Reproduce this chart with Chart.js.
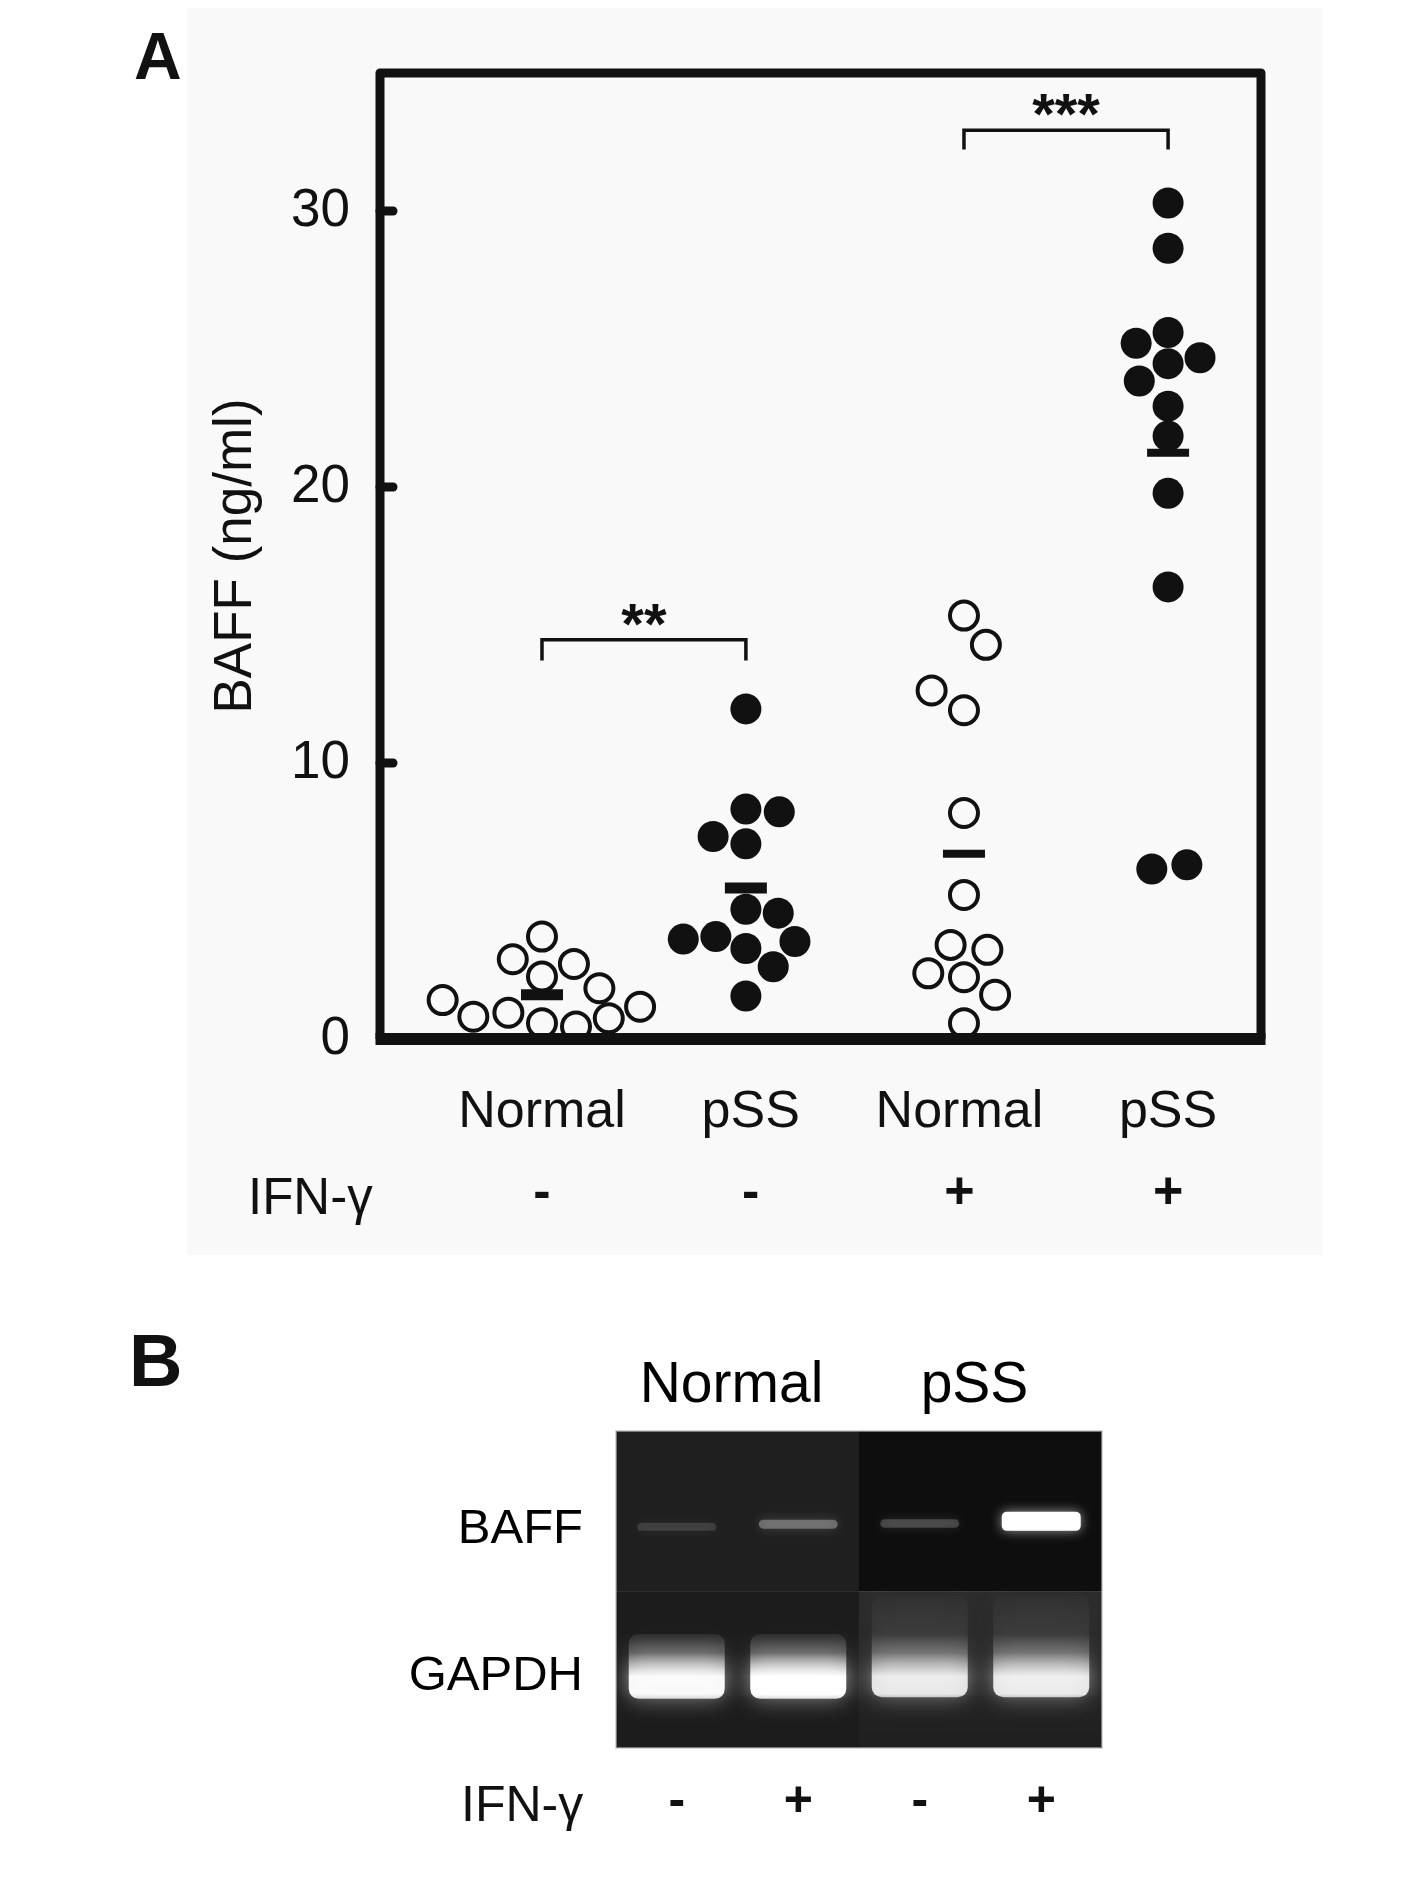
<!DOCTYPE html>
<html>
<head>
<meta charset="utf-8">
<script src="https://cdn.jsdelivr.net/npm/chart.js@4.4.1/dist/chart.umd.min.js"></script>
<style>
  html, body { margin: 0; padding: 0; background: #fff; }
  body { width: 1417px; height: 1891px; position: relative; overflow: hidden;
         font-family: 'Liberation Sans', Arial, sans-serif; color: #111; }
  .scan { position: absolute; left: 187px; top: 8px; width: 1135px; height: 1247px; background: #f9f9f9; }
  #chartA { position: absolute; left: 0; top: 0; }
  #chartB { position: absolute; left: 0; top: 1300px; }
  .lbl { position: absolute; line-height: 1; white-space: nowrap; }
</style>
</head>
<body>
<div class="scan"></div>
<canvas id="chartA" width="1417" height="1300"></canvas>
<canvas id="chartB" width="1417" height="591"></canvas>
<div class="lbl" style="left:134px; top:23px; font-size:66px; font-weight:bold;">A</div>
<div class="lbl" style="left:129px; top:1324px; font-size:74px; font-weight:bold;">B</div>
<div class="lbl" style="left:248px; top:1171px; font-size:51px;">IFN-γ</div>
<div class="lbl" style="left:461px; top:1779px; font-size:50px;">IFN-γ</div>
<script>
const FONT = "'Liberation Sans', Arial, sans-serif";

// Panel A: BAFF in culture supernatant (ng/ml)
const groupNames = ['Normal', 'pSS', 'Normal', 'pSS'];
const ifnSigns = ['-', '-', '+', '+'];
const groupPos = [1, 1.977, 3.022, 4];
const yTicks = [0, 10, 20, 30];

const normalNoIfn = [1.41, 0.81, 0.95, 2.89, 3.71, 2.26, 0.57, 2.72, 0.45, 1.84, 0.75, 1.17];
const normalNoIfnJitter = [-0.476, -0.329, -0.161, -0.140, 0, 0, 0, 0.153, 0.163, 0.275, 0.320, 0.470];
const pssNoIfn = [11.96, 8.33, 8.23, 7.34, 7.07, 4.70, 4.56, 3.62, 3.71, 3.28, 3.53, 2.62, 1.56];
const pssNoIfnJitter = [0, 0, 0.160, -0.157, 0, 0, 0.155, -0.300, -0.144, 0, 0.235, 0.131, 0];
const normalIfn = [15.34, 14.28, 12.63, 11.91, 8.19, 5.22, 3.41, 3.23, 2.38, 2.24, 1.60, 0.57];
const normalIfnJitter = [0, 0.105, -0.155, 0, 0, 0, -0.064, 0.112, -0.171, 0, 0.149, 0];
const pssIfn = [30.29, 28.65, 25.21, 25.60, 24.68, 24.47, 23.84, 22.93, 21.85, 19.77, 16.38, 6.16, 6.31];
const pssIfnJitter = [0, 0, -0.153, 0, 0.153, 0, -0.138, 0, 0, 0, 0, -0.078, 0.090];
const groupMeans = [1.60, 5.47, 6.71, 21.24];

// significance brackets
const bracketFrom = [1, 3.022];
const bracketTo = [1.977, 4];
const bracketTop = [14.47, 32.93];
const bracketDrop = [0.76, 0.70];
const bracketStars = ['**', '***'];

// Panel B: RT-PCR gel, band position (% of gel height) and brightness
const laneSigns = ['-', '+', '-', '+'];
const donorGroups = ['Normal', 'pSS'];
const rowNames = ['BAFF', 'GAPDH'];
const rowPos = [31.2, 77.3];
const baffTop = [29, 28, 27.8, 25.5];
const baffBottom = [31.5, 30.8, 30.5, 31.5];
const baffLevel = [0.12, 0.3, 0.2, 1.0];
const gapdhTop = [64, 64, 52, 52];
const gapdhBottom = [84.5, 84.5, 84, 84];
const gapdhLevel = [0.96, 1.0, 0.84, 0.86];

function groupPoints(values, jitter, g) {
  return values.map((v, i) => ({ x: groupPos[g] + jitter[i], y: v }));
}

function bracketPoints(i) {
  return [
    { x: bracketFrom[i], y: bracketTop[i] - bracketDrop[i] },
    { x: bracketFrom[i], y: bracketTop[i] },
    { x: bracketTo[i], y: bracketTop[i] },
    { x: bracketTo[i], y: bracketTop[i] - bracketDrop[i] },
  ];
}

const openDot = { pointRadius: 14, pointBorderWidth: 4, pointBackgroundColor: '#f9f9f9', pointBorderColor: '#111' };
const fullDot = { pointRadius: 15.5, pointBorderWidth: 0, pointBackgroundColor: '#111', pointBorderColor: '#111' };
const noGrid = { display: false, drawTicks: false };

// frame, inward ticks and stars
const frameA = {
  id: 'frameA',
  afterDatasetsDraw(chart) {
    const { ctx, chartArea: a, scales: { x, y } } = chart;
    ctx.save();
    ctx.fillStyle = '#111';
    ctx.font = 'bold 58px ' + FONT;
    ctx.textAlign = 'center';
    ctx.textBaseline = 'alphabetic';
    bracketStars.forEach((s, i) => {
      const px = x.getPixelForValue((bracketFrom[i] + bracketTo[i]) / 2);
      const py = y.getPixelForValue(bracketTop[i]);
      ctx.fillText(s, px, py + 4);
    });

    ctx.strokeStyle = '#111';
    ctx.lineWidth = 9;
    ctx.lineJoin = 'round';
    ctx.beginPath();
    ctx.moveTo(a.left, a.bottom);
    ctx.lineTo(a.left, a.top);
    ctx.lineTo(a.right, a.top);
    ctx.lineTo(a.right, a.bottom);
    ctx.stroke();
    ctx.lineWidth = 12;
    ctx.beginPath();
    ctx.moveTo(a.left - 4.5, a.bottom);
    ctx.lineTo(a.right + 4.5, a.bottom);
    ctx.stroke();

    ctx.lineWidth = 9;
    ctx.lineCap = 'round';
    y.ticks.forEach(t => {
      if (t.value === 0) return;
      const py = y.getPixelForValue(t.value);
      ctx.beginPath();
      ctx.moveTo(a.left, py);
      ctx.lineTo(a.left + 13, py);
      ctx.stroke();
    });
    ctx.restore();
  }
};

new Chart(document.getElementById('chartA'), {
  type: 'scatter',
  data: {
    datasets: [
      {
        label: 'mean',
        data: groupMeans.map((m, i) => ({ x: groupPos[i], y: m })),
        pointStyle: 'line',
        pointRadius: 21,
        pointBorderWidth: [11, 11, 8, 8],
        pointBorderColor: '#111',
      },
      { label: 'bracket1', data: bracketPoints(0), showLine: true, borderColor: '#111', borderWidth: 3.5, pointRadius: 0 },
      { label: 'bracket2', data: bracketPoints(1), showLine: true, borderColor: '#111', borderWidth: 3.5, pointRadius: 0 },
      { label: 'Normal IFN-', data: groupPoints(normalNoIfn, normalNoIfnJitter, 0), ...openDot },
      { label: 'pSS IFN-', data: groupPoints(pssNoIfn, pssNoIfnJitter, 1), ...fullDot },
      { label: 'Normal IFN+', data: groupPoints(normalIfn, normalIfnJitter, 2), ...openDot },
      { label: 'pSS IFN+', data: groupPoints(pssIfn, pssIfnJitter, 3), ...fullDot },
    ]
  },
  options: {
    responsive: false,
    animation: false,
    devicePixelRatio: 1,
    layout: { padding: { top: 73, right: 156, left: 0, bottom: 0 } },
    plugins: { legend: { display: false }, tooltip: { enabled: false } },
    scales: {
      x: {
        type: 'linear',
        min: 0.2238,
        max: 4.4452,
        weight: 0,
        afterBuildTicks: s => { s.ticks = groupNames.map((_, i) => ({ value: i + 1 })); },
        ticks: {
          callback: (v, i) => groupNames[i],
          font: { family: FONT, size: 52 },
          color: '#111',
          padding: 42,
          autoSkip: false,
          maxRotation: 0,
          minRotation: 0,
        },
        grid: noGrid,
        border: { display: false },
        afterFit: s => { s.height = 113; },
      },
      xs: {
        type: 'linear',
        position: 'bottom',
        min: 0.2238,
        max: 4.4452,
        weight: 1,
        afterBuildTicks: s => { s.ticks = ifnSigns.map((_, i) => ({ value: i + 1 })); },
        ticks: {
          callback: (v, i) => ifnSigns[i],
          font: { family: FONT, size: 52, weight: 'bold' },
          color: '#111',
          padding: 10,
          autoSkip: false,
          maxRotation: 0,
          minRotation: 0,
        },
        grid: noGrid,
        border: { display: false },
        afterFit: s => { s.height = 148; },
      },
      y: {
        min: 0,
        max: 35,
        afterBuildTicks: s => { s.ticks = yTicks.map(v => ({ value: v })); },
        ticks: { font: { family: FONT, size: 53 }, color: '#111', padding: 30 },
        grid: noGrid,
        border: { display: false },
        title: {
          display: true,
          text: 'BAFF (ng/ml)',
          font: { family: FONT, size: 53 },
          color: '#111',
          padding: { top: 205, bottom: 0 },
        },
        afterFit: s => { s.width = 380; },
      }
    }
  },
  plugins: [frameA]
});

// gel background quadrants and edge
const gelBack = {
  id: 'gelBack',
  beforeDatasetsDraw(chart) {
    const { ctx, chartArea: a, scales: { x, y } } = chart;
    const mx = (x.getPixelForValue(1) + x.getPixelForValue(2)) / 2;
    const my = y.getPixelForValue(50.5);
    ctx.save();
    ctx.fillStyle = '#1f1f1f';
    ctx.fillRect(a.left, a.top, mx - a.left, my - a.top);
    ctx.fillStyle = '#0e0e0e';
    ctx.fillRect(mx, a.top, a.right - mx, my - a.top);
    ctx.fillStyle = '#1c1c1c';
    ctx.fillRect(a.left, my, mx - a.left, a.bottom - my);
    const g = ctx.createLinearGradient(0, my, 0, a.bottom);
    g.addColorStop(0, '#2c2c2c');
    g.addColorStop(1, '#1f1f1f');
    ctx.fillStyle = g;
    ctx.fillRect(mx, my, a.right - mx, a.bottom - my);
    ctx.restore();
  },
  afterDraw(chart) {
    const { ctx, chartArea: a } = chart;
    ctx.save();
    ctx.strokeStyle = 'rgba(185,185,185,0.8)';
    ctx.lineWidth = 1.5;
    ctx.strokeRect(a.left, a.top, a.right - a.left, a.bottom - a.top);
    ctx.restore();
  }
};

const gelGlow = {
  id: 'gelGlow',
  beforeDatasetDraw(chart, args) {
    const ctx = chart.ctx;
    ctx.save();
    ctx.shadowColor = 'rgba(255,255,255,0.6)';
    ctx.shadowBlur = args.index === 0 ? 12 : 22;
  },
  afterDatasetDraw(chart) {
    chart.ctx.restore();
  }
};

function gapdhFill(c) {
  const chart = c.chart;
  const y = chart.scales.y;
  if (!chart.chartArea || !y) return 'rgba(255,255,255,0.9)';
  const i = c.dataIndex;
  const top = y.getPixelForValue(gapdhTop[i]);
  const bot = y.getPixelForValue(gapdhBottom[i]);
  const L = gapdhLevel[i];
  const f = v => Math.min(1, Math.max(0, (y.getPixelForValue(v) - top) / (bot - top)));
  const g = chart.ctx.createLinearGradient(0, top, 0, bot);
  g.addColorStop(0, 'rgba(255,255,255,0.02)');
  g.addColorStop(f(64), 'rgba(255,255,255,0.06)');
  g.addColorStop(f(70), 'rgba(255,255,255,0.25)');
  g.addColorStop(f(74.5), `rgba(255,255,255,${0.7 * L})`);
  g.addColorStop(f(77.5), `rgba(255,255,255,${L})`);
  g.addColorStop(f(83), `rgba(255,255,255,${L})`);
  g.addColorStop(1, `rgba(255,255,255,${0.8 * L})`);
  return g;
}

new Chart(document.getElementById('chartB'), {
  type: 'bar',
  data: {
    labels: laneSigns,
    datasets: [
      {
        label: 'BAFF',
        data: baffTop.map((t, i) => [t, baffBottom[i]]),
        backgroundColor: c => `rgba(255,255,255,${baffLevel[c.dataIndex]})`,
        barPercentage: 0.65,
        categoryPercentage: 1,
        grouped: false,
        borderRadius: 5,
        borderSkipped: false,
      },
      {
        label: 'GAPDH',
        data: gapdhTop.map((t, i) => [t, gapdhBottom[i]]),
        backgroundColor: gapdhFill,
        barPercentage: 0.79,
        categoryPercentage: 1,
        grouped: false,
        borderRadius: 10,
        borderSkipped: false,
      }
    ]
  },
  options: {
    responsive: false,
    animation: false,
    devicePixelRatio: 1,
    layout: { padding: { right: 315, left: 0, top: 0, bottom: 0 } },
    plugins: { legend: { display: false }, tooltip: { enabled: false } },
    scales: {
      x: {
        position: 'bottom',
        grid: noGrid,
        border: { display: false },
        ticks: { font: { family: FONT, size: 50, weight: 'bold' }, color: '#111', padding: 24, maxRotation: 0 },
        afterFit: s => { s.height = 143; },
      },
      x2: {
        type: 'category',
        labels: donorGroups,
        position: 'top',
        offset: true,
        grid: noGrid,
        border: { display: false },
        ticks: { font: { family: FONT, size: 57 }, color: '#000', padding: 11, maxRotation: 0, labelOffset: -6 },
        afterFit: s => { s.height = 131; },
      },
      y: {
        type: 'linear',
        reverse: true,
        min: 0,
        max: 100,
        afterBuildTicks: s => { s.ticks = rowPos.map(v => ({ value: v })); },
        ticks: { callback: (v, i) => rowNames[i], font: { family: FONT, size: 49 }, color: '#000', padding: 33 },
        grid: noGrid,
        border: { display: false },
        afterFit: s => { s.width = 616; },
      }
    }
  },
  plugins: [gelBack, gelGlow]
});
</script>
</body>
</html>
